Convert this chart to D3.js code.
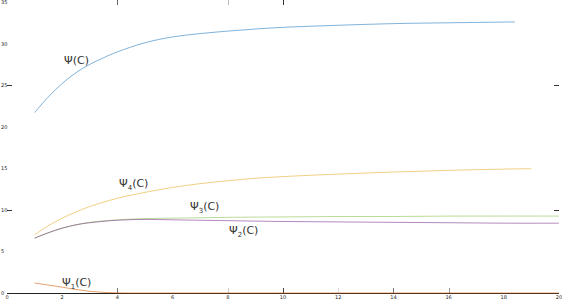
<!DOCTYPE html>
<html lang="en">
<head>
    <meta charset="UTF-8">
    <title>Psi curves</title>
    <script src="https://d3js.org/d3.v7.min.js"></script>
    <style>
        body { margin: 0; background: #fff; }
        .tick-label { font-family: "DejaVu Sans", sans-serif; font-size: 5px; fill: #222; }
        .curve-label { font-family: "DejaVu Sans", sans-serif; font-size: 11px; fill: #333; }
        .curve { fill: none; stroke-width: 0.6px; }
    </style>
</head>
<body>
    <svg width="562" height="300"></svg>

    <script>
        // Data
        const xTicks = [0, 2, 4, 6, 8, 10, 12, 14, 16, 18, 20];
        const yTicks = [0, 5, 10, 15, 20, 25, 30, 35];

        const psiX   = [1, 1.5, 2, 2.5, 3, 3.5, 4, 5, 6, 7, 8, 9, 10, 12, 14, 16, 18.4];
        const psiY   = [21.7, 23.6, 25.2, 26.5, 27.5, 28.3, 29.0, 30.1, 30.8, 31.2, 31.5, 31.75, 31.95, 32.2, 32.4, 32.5, 32.6];

        const psi4X  = [1, 1.5, 2, 2.5, 3, 4, 5, 6, 7, 8, 9, 10, 12, 14, 16, 18, 19];
        const psi4Y  = [7.0, 8.1, 9.0, 9.75, 10.4, 11.4, 12.1, 12.7, 13.15, 13.5, 13.8, 14.0, 14.3, 14.55, 14.75, 14.9, 14.95];

        const psi3X  = [1, 1.5, 2, 2.5, 3, 4, 5, 6, 7, 8, 10, 12, 14, 16, 18, 20];
        const psi3Y  = [6.6, 7.25, 7.8, 8.2, 8.5, 8.8, 8.95, 9.0, 9.05, 9.1, 9.15, 9.2, 9.2, 9.25, 9.25, 9.25];

        const psi2X  = [1, 1.5, 2, 2.5, 3, 4, 5, 6, 7, 8, 10, 12, 14, 16, 18, 20];
        const psi2Y  = [6.6, 7.25, 7.8, 8.2, 8.45, 8.75, 8.85, 8.8, 8.75, 8.7, 8.6, 8.55, 8.5, 8.45, 8.4, 8.4];

        const psi1X  = [1, 1.5, 2, 2.5, 3, 3.5, 4, 4.5, 6, 8, 10, 12, 14, 16, 18, 20];
        const psi1Y  = [1.2, 0.95, 0.7, 0.42, 0.2, 0.07, 0.02, 0, 0, 0, 0, 0, 0, 0, 0, 0];

        const xScale = d3.scaleLinear().domain([0, 20]).range([7, 559]);
        const yScale = d3.scaleLinear().domain([0, 35]).range([293, 2]);

        const svg = d3.select("svg");

        // bottom spine
        svg.append("line")
            .attr("x1", xScale(0)).attr("x2", xScale(20))
            .attr("y1", 293.5).attr("y2", 293.5)
            .attr("stroke", "#222").attr("stroke-width", 1);

        // tick labels
        svg.selectAll(".xl")
            .data(xTicks)
          .enter().append("text")
            .attr("class", "tick-label")
            .attr("x", d => xScale(d))
            .attr("y", 299)
            .attr("text-anchor", "middle")
            .text(d => d);

        svg.selectAll(".yl")
            .data(yTicks)
          .enter().append("text")
            .attr("class", "tick-label")
            .attr("x", 1)
            .attr("y", d => yScale(d) + 2)
            .text(d => d);

        // sparse inward ticks, as they show in the picture
        const bottomTicks = [[4, "#777"], [8, "#ccc"], [10, "#444"], [12, "#ddd"], [14, "#777"], [16, "#999"]];
        const topTicks = [[4, "#666"], [8, "#bbb"], [10, "#333"]];
        const sideTicks = [10, 25];

        svg.selectAll(".bt").data(bottomTicks).enter().append("line")
            .attr("x1", d => Math.round(xScale(d[0])) + 0.5).attr("x2", d => Math.round(xScale(d[0])) + 0.5)
            .attr("y1", 293).attr("y2", 288)
            .attr("stroke", d => d[1]);

        svg.selectAll(".tt").data(topTicks).enter().append("line")
            .attr("x1", d => Math.round(xScale(d[0])) + 0.5).attr("x2", d => Math.round(xScale(d[0])) + 0.5)
            .attr("y1", 0).attr("y2", 5)
            .attr("stroke", d => d[1]);

        svg.selectAll(".lt").data(sideTicks).enter().append("line")
            .attr("x1", xScale(0)).attr("x2", xScale(0) + 5)
            .attr("y1", d => Math.round(yScale(d)) + 0.5).attr("y2", d => Math.round(yScale(d)) + 0.5)
            .attr("stroke", "#333");

        svg.selectAll(".rt").data(sideTicks).enter().append("line")
            .attr("x1", xScale(20) - 5).attr("x2", xScale(20))
            .attr("y1", d => Math.round(yScale(d)) + 0.5).attr("y2", d => Math.round(yScale(d)) + 0.5)
            .attr("stroke", "#333");

        // curves
        const series = [
            { xs: psiX,  ys: psiY,  color: "#2a80c2" },
            { xs: psi4X, ys: psi4Y, color: "#e8b030" },
            { xs: psi3X, ys: psi3Y, color: "#8cc250" },
            { xs: psi2X, ys: psi2Y, color: "#7d3a90" },
            { xs: psi1X, ys: psi1Y, color: "#d95f0e" }
        ];

        const line = d3.line()
            .x(d => xScale(d[0]))
            .y(d => yScale(d[1]))
            .curve(d3.curveCatmullRom.alpha(0.5));

        svg.selectAll(".curve")
            .data(series)
          .enter().append("path")
            .attr("class", "curve")
            .attr("stroke", d => d.color)
            .attr("d", d => line(d.xs.map((x, i) => [x, d.ys[i]])));

        // curve labels
        const labels = [
            { x: 64,  y: 64,  sub: "" },
            { x: 119, y: 187, sub: "4" },
            { x: 190, y: 210, sub: "3" },
            { x: 229, y: 234, sub: "2" },
            { x: 62,  y: 286, sub: "1" }
        ];

        labels.forEach(l => {
            const t = svg.append("text")
                .attr("class", "curve-label")
                .attr("x", l.x)
                .attr("y", l.y);
            t.append("tspan").text("Ψ");
            if (l.sub) {
                t.append("tspan").attr("font-size", "7px").attr("dy", 3).text(l.sub);
                t.append("tspan").attr("dy", -3).text("(C)");
            } else {
                t.append("tspan").text("(C)");
            }
        });
    </script>
</body>
</html>
